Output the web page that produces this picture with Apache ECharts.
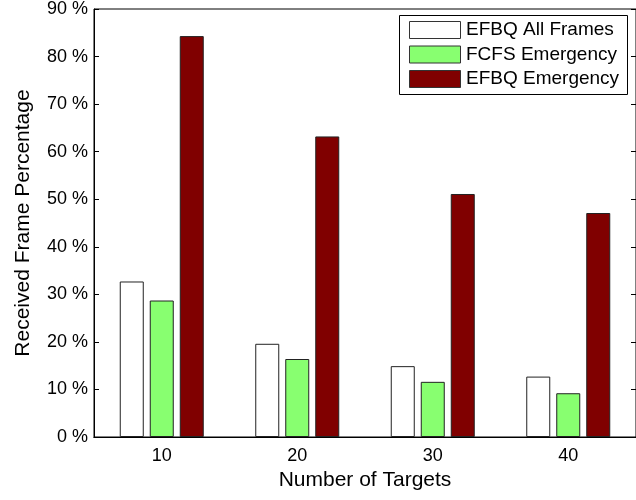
<!DOCTYPE html>
<html>
<head>
<meta charset="utf-8">
<script src="https://cdn.jsdelivr.net/npm/echarts@6/dist/echarts.min.js"></script>
<style>
html,body{margin:0;padding:0;background:#fff;}
#chart{width:636px;height:500px;}
</style>
</head>
<body>
<div id="chart"></div>
<script>
const categories = ['10', '20', '30', '40'];
const seriesNames = ['EFBQ All Frames', 'FCFS Emergency', 'EFBQ Emergency'];
const efbqAllFrames = [32.7, 19.6, 14.9, 12.7];
const fcfsEmergency = [28.7, 16.4, 11.6, 9.2];
const efbqEmergency = [84.3, 63.2, 51.1, 47.1];
const yTicks = [0, 10, 20, 30, 40, 50, 60, 70, 80, 90];

const FONT = 'Liberation Sans';
const colors = ['#ffffff', '#88ff70', '#800000'];
const values = [efbqAllFrames, fcfsEmergency, efbqEmergency];

const chart = echarts.init(document.getElementById('chart'), null, {renderer: 'canvas'});

const legendTop = 21, legendRow = 24.5;

const option = {
  animation: false,
  backgroundColor: '#fff',
  grid: {
    left: 94, top: 7, width: 548, height: 430,
    show: true, borderColor: '#000', borderWidth: 1, backgroundColor: 'transparent'
  },
  xAxis: [{
    type: 'category',
    data: categories,
    position: 'bottom',
    name: 'Number of Targets',
    nameLocation: 'middle',
    nameGap: 33,
    nameTextStyle: {fontFamily: FONT, fontSize: 21, color: '#000'},
    axisLine: {lineStyle: {color: '#000', width: 1}},
    axisTick: {alignWithLabel: true, inside: true, length: 5, lineStyle: {color: '#000'}},
    axisLabel: {fontFamily: FONT, fontSize: 18, color: '#000', margin: 10},
    splitLine: {show: false}
  }, {
    type: 'category',
    data: categories,
    position: 'top',
    axisLine: {lineStyle: {color: '#000', width: 1}},
    axisTick: {alignWithLabel: true, inside: true, length: 5, lineStyle: {color: '#000'}},
    axisLabel: {show: false},
    splitLine: {show: false}
  }],
  yAxis: [{
    type: 'value',
    min: 0, max: 90, interval: 10,
    position: 'left',
    name: 'Received Frame Percentage',
    nameLocation: 'middle',
    nameGap: 60,
    nameTextStyle: {fontFamily: FONT, fontSize: 21, color: '#000'},
    axisLine: {show: true, lineStyle: {color: '#000', width: 1}},
    axisTick: {show: true, inside: true, length: 5, lineStyle: {color: '#000'}},
    axisLabel: {
      fontFamily: FONT, fontSize: 18, color: '#000', margin: 6,
      formatter: function (v) { return yTicks.indexOf(v) >= 0 ? v + ' %' : ''; }
    },
    splitLine: {show: false}
  }, {
    type: 'value',
    min: 0, max: 90, interval: 10,
    position: 'right',
    axisLine: {show: true, lineStyle: {color: '#000', width: 1}},
    axisTick: {show: true, inside: true, length: 5, lineStyle: {color: '#000'}},
    axisLabel: {show: false},
    splitLine: {show: false}
  }],
  series: seriesNames.map(function (name, i) {
    return {
      name: name,
      type: 'bar',
      xAxisIndex: 0,
      yAxisIndex: 0,
      data: values[i],
      barWidth: 24,
      barGap: '25%',
      itemStyle: {color: colors[i], borderColor: '#222', borderWidth: 1}
    };
  }),
  graphic: [{
    type: 'rect',
    shape: {x: 399.5, y: 15.5, width: 228, height: 79},
    style: {fill: '#fff', stroke: '#000', lineWidth: 1},
    z: 50
  }].concat(seriesNames.map(function (name, i) {
    return {
      type: 'group',
      z: 51,
      children: [{
        type: 'rect',
        shape: {x: 409.5, y: legendTop + i * legendRow + 0.5, width: 51, height: 17},
        style: {fill: colors[i], stroke: '#333', lineWidth: 1},
        z: 51
      }, {
        type: 'text',
        style: {
          x: 466, y: legendTop + i * legendRow + 9,
          text: name, fill: '#000',
          font: '19px "' + FONT + '"',
          textVerticalAlign: 'middle', verticalAlign: 'middle'
        },
        z: 52
      }]
    };
  }))
};

chart.setOption(option);
</script>
</body>
</html>
